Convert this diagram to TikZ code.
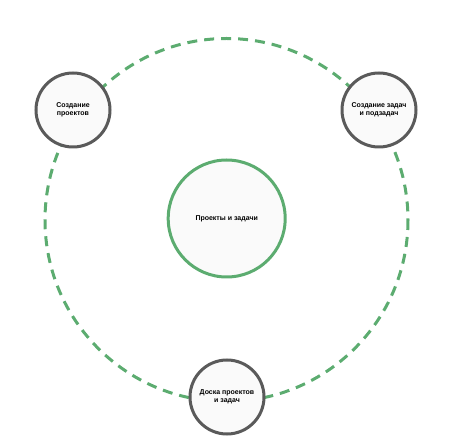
\documentclass[tikz,border=0pt]{standalone}
\usepackage{fontspec}
\setmainfont{Liberation Sans}
\definecolor{ringgreen}{RGB}{92,172,112}
\definecolor{nodegray}{RGB}{90,90,90}
\definecolor{nodefill}{RGB}{250,250,250}
\begin{document}
\begin{tikzpicture}[x=1pt,y=-1pt,
  sat/.style={circle,draw=nodegray,line width=3pt,fill=nodefill,minimum size=74pt,inner sep=0pt,
    font=\fontsize{7}{8.2}\selectfont\bfseries,align=center},
  hub/.style={circle,draw=ringgreen,line width=3pt,fill=nodefill,minimum size=117pt,inner sep=0pt,
    font=\fontsize{7}{8.2}\selectfont\bfseries,align=center},
  ring/.style={draw=ringgreen,line width=3pt,dash pattern=on 10pt off 7pt}]
\useasboundingbox (0,0) rectangle (453,438);
\coordinate (c) at (226.5,220);
\draw[ring] (c) circle[radius=181.5];
\node[hub] (main) at (226.7,218.5) {Проекты и задачи};
\node[sat] (proj) at (73,110) {Создание\\проектов};
\node[sat] (tasks) at (379,110) {Создание задач\\и подзадач};
\node[sat] (board) at (227,397) {Доска проектов\\и задач};
\end{tikzpicture}
\end{document}
